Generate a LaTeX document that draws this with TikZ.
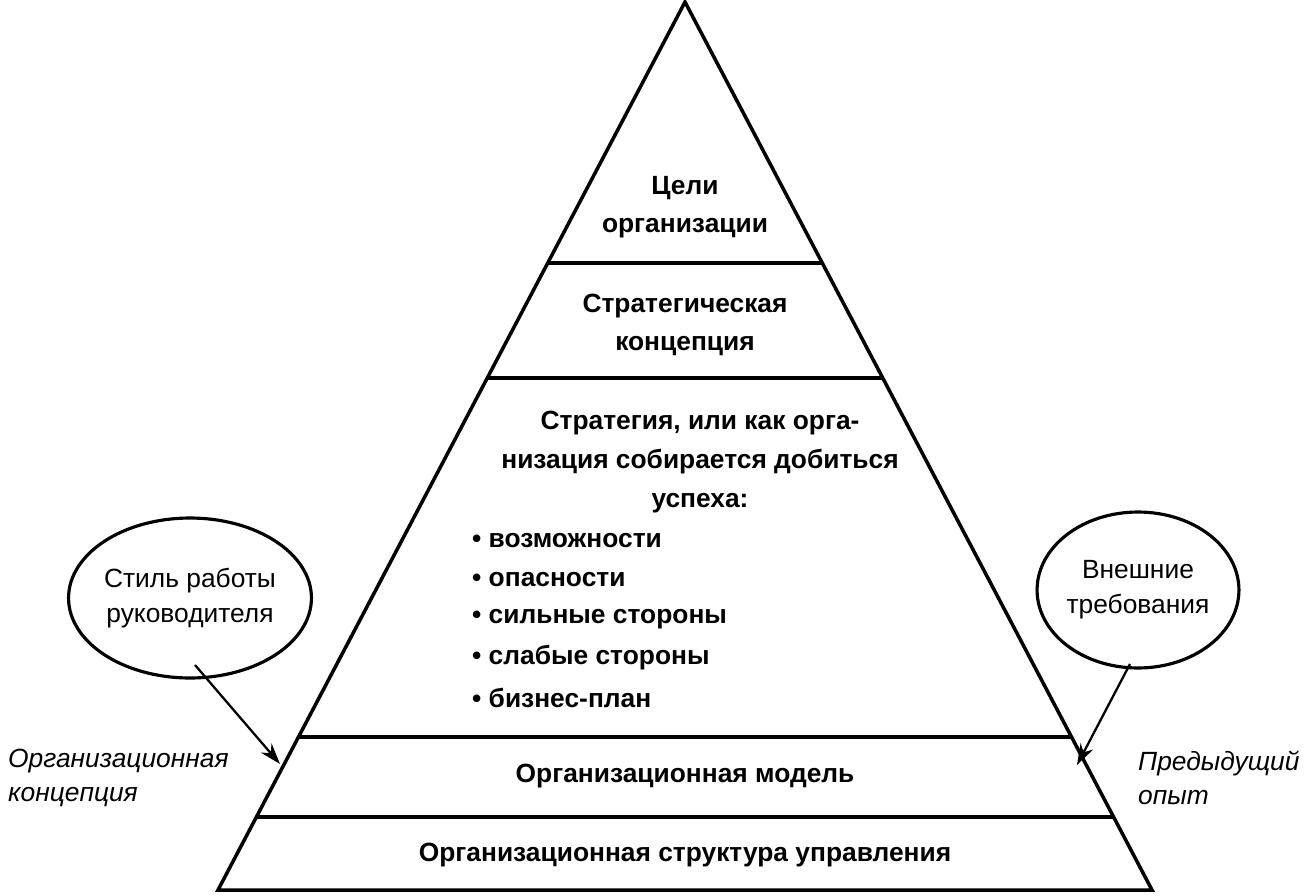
\documentclass[tikz,border=0pt]{standalone}
\usepackage{fontspec}
\usetikzlibrary{shapes.geometric,arrows.meta}
\setmainfont{Liberation Sans}
\begin{document}
\begin{tikzpicture}[x=0.02cm,y=-0.02cm,
  lvl/.style={font=\fontsize{15}{22}\selectfont\bfseries,align=center},
  side/.style={font=\fontsize{15}{19.5}\selectfont\itshape,align=left,anchor=west},
  oval/.style={draw,line width=1.8pt,ellipse,font=\fontsize{15}{20}\selectfont,align=center},
  bul/.style={font=\fontsize{15}{19}\selectfont\bfseries,anchor=west},
  arr/.style={line width=1.3pt,-{Stealth[length=12pt,width=8pt]}}]
\useasboundingbox (0,0) rectangle (1312,896);
\draw[line width=2pt] (685,2) -- (218,890) -- (1152,890) -- cycle;
\draw[line width=2pt] (547.7,263) -- (822.3,263);
\draw[line width=2pt] (487.3,378) -- (882.7,378);
\draw[line width=2pt] (298.5,737) -- (1071.5,737);
\draw[line width=2pt] (256.4,817) -- (1113.6,817);
\node[lvl] (goals) at (685,207) {Цели\\организации};
\node[lvl] (concept) at (685,325) {Стратегическая\\концепция};
\node[lvl] (strat) at (700,462) {Стратегия, или как орга-\\низация собирается добиться\\успеха:};
\node[bul] (b1) at (466,541) {\textbullet\ возможности};
\node[bul] (b2) at (466,580) {\textbullet\ опасности};
\node[bul] (b3) at (466,619) {\textbullet\ сильные стороны};
\node[bul] (b4) at (466,658) {\textbullet\ слабые стороны};
\node[bul] (b5) at (466,698) {\textbullet\ бизнес-план};
\node[lvl] (model) at (685,776) {Организационная модель};
\node[lvl] (struct) at (685,855) {Организационная структура управления};
\node[oval,minimum width=4.72cm,minimum height=3.2cm,inner sep=0pt] (style) at (190,598) {Стиль работы\\руководителя};
\node[oval,minimum width=4cm,minimum height=3.12cm,inner sep=0pt] (ext) at (1138,590) {Внешние\\требования};
\coordinate (lt) at (280,764);
\coordinate (rt) at (1077,765);
\coordinate (ls) at (195,665);
\coordinate (rs) at (1130,664);
\draw[arr] (ls) -- (lt);
\draw[arr] (rs) -- (rt);
\node[side] (lc) at (2,778) {Организационная\\концепция};
\node[side] (rc) at (1132,778) {Предыдущий\\опыт};
\end{tikzpicture}
\end{document}
